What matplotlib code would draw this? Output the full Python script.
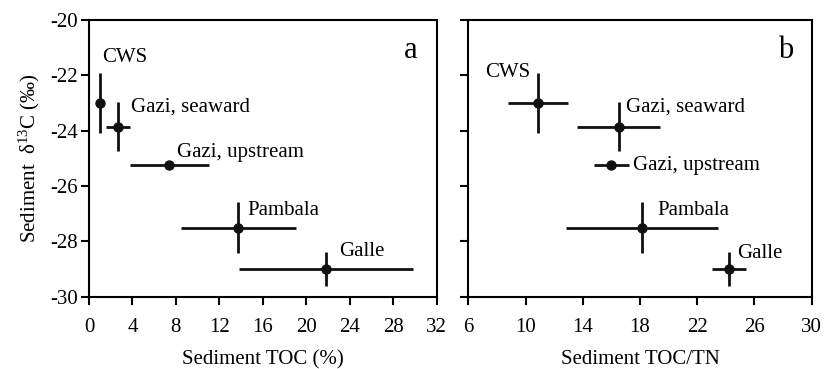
import matplotlib
matplotlib.use("Agg")
import matplotlib.pyplot as plt

plt.rcParams['font.family'] = ['Liberation Serif', 'DejaVu Serif']
plt.rcParams['mathtext.fontset'] = 'custom'
plt.rcParams['mathtext.rm'] = 'Liberation Serif'
plt.rcParams['mathtext.it'] = 'Liberation Serif:italic'
plt.rcParams['axes.unicode_minus'] = False

sites = ["CWS", "Gazi, seaward", "Gazi, upstream", "Pambala", "Galle"]
d13c = [-23.0, -23.85, -25.25, -27.5, -29.0]
d13c_err = [1.1, 0.9, 0.1, 0.93, 0.62]
toc = [1.0, 2.7, 7.4, 13.75, 21.8]
toc_err = [0.0, 1.1, 3.6, 5.3, 8.0]
toctn = [10.85, 16.5, 16.0, 18.15, 24.2]
toctn_err = [2.1, 2.9, 1.2, 5.3, 1.2]

lab_a = [(1.2, -21.35), (3.9, -23.15), (8.1, -24.8), (14.6, -26.9), (23.0, -28.35)]
lab_b = [(7.15, -21.9), (17.05, -23.15), (17.5, -25.25), (19.2, -26.9), (24.8, -28.45)]

FS = 15
W, H = 824, 369
fig = plt.figure(figsize=(W/100, H/100), dpi=100)
ax1 = fig.add_axes([89/W, 1-296.7/H, (436.7-89)/W, (296.7-20)/H])
ax2 = fig.add_axes([468.3/W, 1-296.7/H, (811.7-468.3)/W, (296.7-20)/H])

def style(ax):
    for s in ax.spines.values():
        s.set_linewidth(1.5)
    ax.tick_params(direction='out', length=6, width=1.5, labelsize=FS,
                   top=False, right=False)
    ax.tick_params(axis='x', pad=9)
    ax.tick_params(axis='y', pad=2)
    ax.set_ylim(-30, -20)
    ax.set_yticks(range(-30, -19, 2))

ax1.errorbar(toc, d13c, xerr=toc_err, yerr=d13c_err, fmt='o', color='#111111',
             ms=6.5, elinewidth=2, capsize=0)
for name, (x, y) in zip(sites, lab_a):
    ax1.text(x, y, name, fontsize=FS, va='center', ha='left')
ax1.set_xlim(0, 32)
ax1.set_xticks(range(0, 33, 4))
style(ax1)
ax1.set_xlabel("Sediment TOC (%)", fontsize=FS, labelpad=10)
ax1.set_ylabel("Sediment  $\\mathrm{\\delta}^{13}$C (‰)", fontsize=FS, labelpad=6)
ax1.text(0.945, 0.89, "a", transform=ax1.transAxes, fontsize=22, ha='right', va='center')

ax2.errorbar(toctn, d13c, xerr=toctn_err, yerr=d13c_err, fmt='o', color='#111111',
             ms=6.5, elinewidth=2, capsize=0)
for name, (x, y) in zip(sites, lab_b):
    ax2.text(x, y, name, fontsize=FS, va='center', ha='left')
ax2.set_xlim(6, 30)
ax2.set_xticks(range(6, 31, 4))
style(ax2)
ax2.set_yticklabels([])
ax2.set_xlabel("Sediment TOC/TN", fontsize=FS, labelpad=10)
ax2.text(0.945, 0.89, "b", transform=ax2.transAxes, fontsize=22, ha='right', va='center')

fig.savefig("out.png", dpi=100)
